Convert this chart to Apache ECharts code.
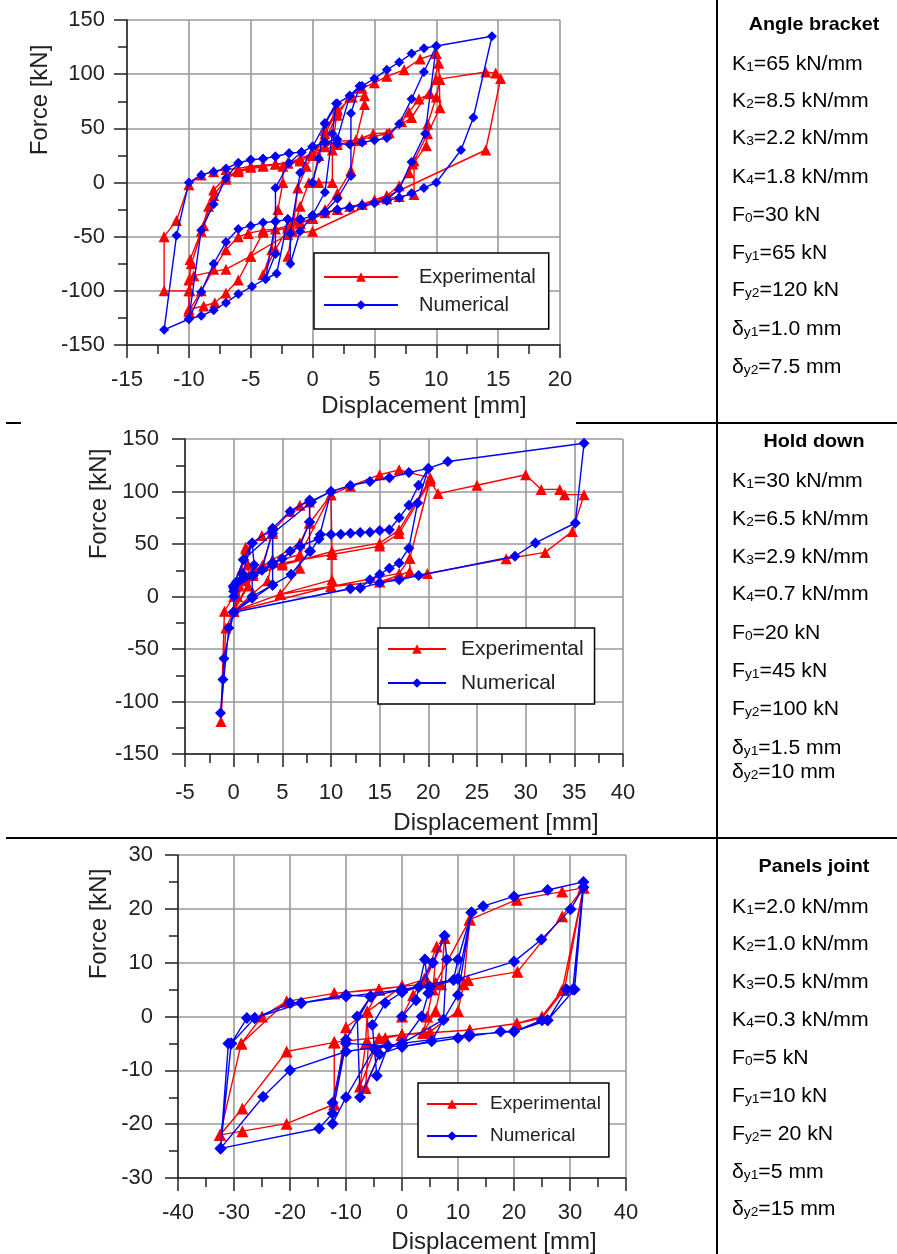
<!DOCTYPE html>
<html><head><meta charset="utf-8">
<script src="https://cdn.jsdelivr.net/npm/echarts@6/dist/echarts.min.js"></script>
<style>html,body{margin:0;padding:0;background:#fff}#c{width:897px;height:1254px}</style>
</head><body><div id="c"></div>
<script>
// ---------- DATA ----------
const seriesNames = ['Experimental', 'Numerical'];
const xTitle = 'Displacement [mm]';
const yTitle = 'Force [kN]';

// Panel 1 : Angle bracket  [displacement mm, force kN]
const angleExp = [
 [0,0],[0.5,25],[1,48],[2,68],[1.6,30],[1.6,0],[0.5,0],[-0.3,0],[-1,-22],[-1.6,-45],[-2,-68],[-1.5,-35],[-1.2,-5],[-0.5,15],[0,25],
 [1,45],[2,66],[3.2,79],[4.2,80],[4.2,72],[3.5,39],[3.1,11],[2,-10],[1,-25],[0,-33],[-1,-38],[-2,-42],[-3,-62],[-4,-85],[-3.3,-62],[-2.8,-25],[-2.4,0],[-2.4,15],[-1,20],[0,25],
 [1,40],[2,62],[3,79],[4,87],[5,92],[6,98],[7.4,104],[8.7,114],[10,119],[10.3,95],[10,79],[9.3,54],[9.2,34],[8.1,17],[7.8,9],[7,-3],[6,-12],[5,-16],[4,-20],[3,-22],[2,-25],[1,-28],[0,-33],[-1,-37],[-2,-40],[-3,-43],[-4,-44],[-5.2,-47],[-6,-50],[-7,-62],[-8,-80],[-9,-100],[-10,-119],[-9.9,-100],[-9.9,-71],[-9,-45],[-8.4,-22],[-8,-7],[-7,5],[-6,11],[-5,14],[-4,16],[-3,17],[-2,18],[-1,22],[0,27],
 [1,33],[2,38],[3.5,39],[4.9,45],[6.2,46],[7.2,56],[7.8,65],[8.6,77],[9.5,82],[10.2,110],[10.3,69],[9.3,45],[8.2,20],[8.2,-11],[7,-13],[6,-15],[4,-20],[2,-25],[0,-33],[-2,-42],[-4,-46],[-5,-68],[-6,-90],[-7,-102],[-7.9,-111],[-8.8,-114],[-10,-117],[-10,-90],[-9.8,-75],[-8.8,-40],[-8,-12],[-7,3],[-6,10],[-4,15],[-2,18],[0,26],
 [2,35],[4,40],[6,45],[8,60],[10,95],[14,102],[14.8,101],[15.2,96],[14,30],[0,-45],[-2,-48],[-5,-68],[-7,-80],[-9.6,-86],[-10,-100],[-12,-100],[-12,-50],[-11,-35],[-10,-2],[-9,7],[-8,10],[-7,12],[-6,13],[-5,15],[-3,17],[-1,20],[0,25]
];
const angleNum = [
 [0,0],[0.5,22],[1,55],[1.9,73],[1.6,45],[1,-9],[0,-30],[-1,-45],[-1.8,-75],[-1.8,-47],[-1,9],[0,33],
 [1,37],[2,40],[3,80],[3.8,89],[3.1,64],[3.1,6],[2,-15],[1,-27],[0,-31],[-1,-34],[-2,-34],[-2.9,-84],[-3.8,-89],[-3,-66],[-3,-5],[-1.9,18],[-0.9,28],[0,33],
 [1,54],[2,73],[3,80],[4,89],[5,96],[6,104],[7,111],[8,119],[9,124],[10,126],[9.1,45],[8,19],[7,-6],[6,-16],[5,-19],[4,-21],[3,-23],[2,-25],[1,-28],[0,-31],[-1,-34],[-2,-34],[-3,-36],[-3.8,-89],[-4.9,-96],[-6,-103],[-7,-111],[-8,-118],[-9,-123],[-10,-126],[-9,-44],[-8,-20],[-7,4],[-6,18],[-5,21],[-4,22],[-3,24],[-1.9,27],[-0.9,28],[0,33],
 [1,37],[2,36],[3,35],[4,37],[5,39],[6,41],[7,54],[8,77],[9,102],[10,126],[14.5,135],[13,60],[12,30],[10,0],[9,-5],[8,-10],[7,-14],[6,-17],[5,-19],[4,-21],[3,-23],[2,-25],[1,-28],[0,-31],[-1,-34],[-2,-34],[-3,-36],[-4,-37],[-5,-40],[-6,-43],[-7,-55],[-8,-75],[-9,-101],[-10,-126],[-12,-136],[-11,-49],[-10,0],[-9,7],[-8,10],[-7,13],[-6,18],[-5,21],[-4,22],[-3,24],[-1.9,27],[-0.9,28],[0,33]
];

// Panel 2 : Hold down
const holdExp = [
 [0,0],[-0.95,-14],[-1.3,-119],[-0.8,-30],[0,-14],[0.4,0],[0.8,25],[1.25,47],[1.5,30],[1.5,10],[0,-14],
 [0.5,10],[2,25],[2.9,28.5],[4,60],[4,35],[3.5,15],[2,3],[0,-14],
 [0.5,12],[1.25,45],[2.9,58],[4,62],[5.8,81],[6.8,87],[7.8,90],[7.8,70],[6.8,50.6],[6.8,27],[4.8,2.2],[0,-14],
 [1,15],[2.9,28.5],[4,35],[6.8,50.6],[7.8,70],[10,97],[10.1,42.9],[10.1,15.9],[4.8,2.2],[0,-14],
 [1,18],[3,30],[6.8,40],[10,97],[12,105],[15,116],[17,120.6],[20.2,113],[18.1,36.5],[18.1,23.8],[15,14],[10,9.5],[4.8,2.2],[0,-14],
 [2,20],[5,30],[10.1,42.9],[15,50.8],[17,63.5],[20.2,112],[18.1,36.5],[17,22],[10,9.5],[0,-14],
 [2,22],[5,32],[10.1,40],[15,48],[17,60],[20.2,110],[21,98],[25,106],[30,116],[31.6,102],[33.5,102],[34,97],[36,97],[34.8,62],[32,42],[28,36],[19.9,21.8],[15,14],[10,9.5],[4.8,2.2],[0,-14]
];
const holdNum = [
 [0,0],[0,-15],[-1,-59],[-1.1,-79],[-1.35,-111],[-0.5,-30],[0,-15],[0,5],[0.3,14],[0.9,22],[1.9,51],[2.1,30],[1.9,21],[1.9,-1.6],[0,-15],
 [0,9.5],[1,18],[2.9,25],[4,63],[4,32],[4,11],[1.9,0],[0,-15],
 [0,10],[1,35],[1.9,51],[4,65],[5.8,81],[7.8,92],[7.8,71],[7.8,43],[5.9,21],[4,11],[1.9,0],[0,-15],
 [0,10],[2,20],[4,32],[5,36],[5.8,43],[6.8,48],[7.8,71],[7.8,90],[10,100],[8.75,55],[7.9,43],[5.9,21],[4,11],[0,-15],
 [0,10],[1,35],[4,60],[8,90],[10,100],[12,105.7],[14,109.5],[16,113],[18,118],[20,122],[18.9,89],[18,46],[17,32],[16,27],[15,21],[14,16],[13,8],[12,7.3],[0,-15],
 [0,8],[4,30],[6.8,48],[8.75,55],[8.9,59],[10,59],[11,59.4],[12,60.3],[13,61],[14,61.3],[15,62.9],[16,63.5],[17,75],[18,87],[19,106],[20,122],[22,128.6],[36,146],[35.1,70],[31,51],[28.9,38.3],[19,20],[17,16],[15,13],[13,8],[12,7.6],[0,-15]
];

// Panel 3 : Panels joint
const panelExp = [
 [0,0],[2,4],[4,7],[6.2,13],[5.5,5],[4.5,0],[3.8,-3],[0,-3.4],[-3,-4],[-6.5,-13.3],[-6,-5],[-6.2,0.9],[-4.1,5],[0,5.6],
 [4.3,7],[7.6,14.6],[7,6],[6,1],[3.8,-3],[0,-3.4],[-4.1,-4],[-7.5,-13],[-6.5,-5],[-6.2,0.9],[-4.1,5],[0,5.6],
 [6,6.2],[12.1,18],[11,6],[10,1],[5,-2.8],[0,-3.4],[-12.1,-4.8],[-12.1,-16.3],[-10,-2],[-6.2,0.9],[0,5.6],
 [6,6.2],[12.1,18],[20.5,21.7],[28.6,23.2],[32.4,23.9],[28.6,4.9],[25,0],[20.5,-1.3],[12.1,-2.5],[0,-3.4],[-12.1,-4.8],[-12.1,-16.3],[-20.6,-19.9],[-28.5,-21.3],[-32.5,-22],[-28.7,-5],[-25,0],[-20.6,2.8],[-12.1,4.3],[-4.1,5],[0,5.6],
 [11.8,6.8],[20.6,8.3],[28.6,18.6],[32.4,24],[29,5],[25,-0.3],[20.5,-1.3],[12.1,-2.5],[0,-3.4],[-12.1,-4.8],[-20.6,-6.5],[-28.5,-17.1],[-32.5,-22],[-28.7,-5],[-20.6,2.8],[-12.1,4.3],[0,5.6]
];
const panelNum = [
 [0,0],[2.5,3],[4.1,10.6],[4.7,4.3],[3.5,0],[0,-5],[-2.5,-5.5],[-4.5,-11],[-5.3,-1.6],[-3,2.5],[0,4.5],
 [3,5.5],[5.5,10],[7.6,15],[8,10.6],[7.4,-0.6],[5.3,-4.6],[0,-5.6],[-4,-7],[-7.5,-15],[-8,0],[-5.6,3.7],[0,5],
 [5,5.5],[9.2,6.8],[10,10.6],[12.4,19.3],[10,4],[7.4,-0.6],[0,-5],[-5,-6],[-10,-15],[-12.4,-19.9],[-12.4,-16],[-10,-4.3],[-5.6,3.7],[0,5],
 [5,5.5],[10,7],[12.4,19.3],[14.5,20.5],[20,22.3],[26,23.5],[32.4,25],[30.5,5],[29.4,5],[26,-0.7],[25,-0.7],[20,-2.8],[17.6,-2.8],[12,-3.7],[10,-4],[0,-5.6],[-10,-5],[-12.4,-18],[-14.8,-20.8],[-32.4,-24.5],[-31,-5],[-30.5,-5],[-27.7,-0.3],[-26.3,-0.3],[-20,2.5],[-18,2.5],[-10,4],[-5.6,3.7],[0,5],
 [10,7],[20,10.2],[24.9,14.3],[30.1,19.9],[32.4,24],[30.8,5],[26,-0.7],[20,-2.8],[12,-3.4],[0,-5],[-10,-6.5],[-20,-10],[-24.8,-14.9],[-32.4,-24.5],[-30.5,-5],[-26.3,-0.3],[-18,2.5],[-10,3.7],[0,5]
];

// Parameter tables (base, subscript, rest)
const angleTitle = 'Angle bracket';
const angleParams = [['K','1','=65 kN/mm'],['K','2','=8.5 kN/mm'],['K','3','=2.2 kN/mm'],['K','4','=1.8 kN/mm'],['F','0','=30 kN'],['F','y1','=65 kN'],['F','y2','=120 kN'],['δ','y1','=1.0 mm'],['δ','y2','=7.5 mm']];
const holdTitle = 'Hold down';
const holdParams = [['K','1','=30 kN/mm'],['K','2','=6.5 kN/mm'],['K','3','=2.9 kN/mm'],['K','4','=0.7 kN/mm'],['F','0','=20 kN'],['F','y1','=45 kN'],['F','y2','=100 kN'],['δ','y1','=1.5 mm'],['δ','y2','=10 mm']];
const panelTitle = 'Panels joint';
const panelParams = [['K','1','=2.0 kN/mm'],['K','2','=1.0 kN/mm'],['K','3','=0.5 kN/mm'],['K','4','=0.3 kN/mm'],['F','0','=5 kN'],['F','y1','=10 kN'],['F','y2','= 20 kN'],['δ','y1','=5 mm'],['δ','y2','=15 mm']];

// ---------- LAYOUT ----------
const FONT = "'Liberation Sans', Arial, Helvetica, sans-serif";
const RED = '#ff0000', BLUE = '#0000ff';
const panels = [
 {grid:{left:127,top:20,width:433,height:325}, x:[-15,20,5], y:[-150,150,50], exp:angleExp, num:angleNum,
  lab:22, xm:24, ym:22, ms:[11,10],
  legend:{left:314,top:253,padding:[14,13,14,9],itemWidth:74,gap:8,fs:20,lh:20,tp:16},
  yT:[40,100], xT:[424,406], title:angleTitle, params:angleParams, ty:25, py:[63,100,137,176,214,252,289,328,366]},
 {grid:{left:185,top:439,width:438,height:315}, x:[-5,40,5], y:[-150,150,50], exp:holdExp, num:holdNum,
  lab:22, xm:28, ym:26, ms:[11,11],
  legend:{left:378,top:628,padding:[10,11,10,9],itemWidth:58,gap:12,fs:21,lh:22,tp:10},
  yT:[99,504], xT:[496,823], title:holdTitle, params:holdParams, ty:442, py:[480,518,556,593,632,670,708,747,771]},
 {grid:{left:178,top:855,width:448,height:323}, x:[-40,40,10], y:[-30,30,10], exp:panelExp, num:panelNum,
  lab:22, xm:24, ym:25, ms:[12,12],
  legend:{left:418,top:1083,padding:[11,8,11,8],itemWidth:50,gap:12,fs:19,lh:20,tp:8},
  yT:[99,924], xT:[494,1242], title:panelTitle, params:panelParams, ty:867, py:[906,943,981,1019,1057,1095,1133,1171,1208]}
];

const grids=[], xAxes=[], yAxes=[], series=[], legends=[], graphics=[];
const axisCommon = (fs, margin) => ({
  axisLine:{show:true, onZero:false, lineStyle:{color:'#222', width:1.5}},
  axisTick:{show:true, inside:false, length:13, lineStyle:{color:'#222', width:1.5}},
  minorTick:{show:true, splitNumber:2, length:9, lineStyle:{color:'#222', width:1.5}},
  splitLine:{show:true, lineStyle:{color:'#9a9a9a', width:1.6}},
  axisLabel:{fontSize:fs, fontFamily:FONT, color:'#222', margin:margin}
});
panels.forEach((p,i)=>{
  grids.push(Object.assign({containLabel:false}, p.grid));
  xAxes.push(Object.assign({type:'value', gridIndex:i, min:p.x[0], max:p.x[1], interval:p.x[2]}, axisCommon(p.lab, p.xm)));
  yAxes.push(Object.assign({type:'value', gridIndex:i, min:p.y[0], max:p.y[1], interval:p.y[2]}, axisCommon(p.lab, p.ym)));
  series.push({type:'line', name:seriesNames[0], xAxisIndex:i, yAxisIndex:i, data:p.exp, symbol:'triangle', symbolSize:p.ms[0],
    lineStyle:{color:RED, width:1.4}, itemStyle:{color:RED}, animation:false, z:3});
  series.push({type:'line', name:seriesNames[1], xAxisIndex:i, yAxisIndex:i, data:p.num, symbol:'diamond', symbolSize:p.ms[1],
    lineStyle:{color:BLUE, width:1.4}, itemStyle:{color:BLUE}, animation:false, z:4});
  const L = p.legend;
  legends.push({data:seriesNames, orient:'vertical', left:L.left, top:L.top, padding:L.padding, itemWidth:L.itemWidth, itemHeight:12,
    itemGap:L.gap, borderColor:'#000', borderWidth:1.5, backgroundColor:'#fff', z:10,
    textStyle:{fontSize:L.fs, fontFamily:FONT, color:'#222', lineHeight:L.lh, padding:[0,0,0,L.tp]}});
  // axis titles
  graphics.push({type:'text', x:p.yT[0], y:p.yT[1], rotation:Math.PI/2, z:20,
    style:{text:yTitle, fontSize:24, fontFamily:FONT, fill:'#222', align:'center', verticalAlign:'middle'}});
  graphics.push({type:'text', x:p.xT[0], y:p.xT[1], z:20,
    style:{text:xTitle, fontSize:24, fontFamily:FONT, fill:'#222', align:'center', verticalAlign:'middle'}});
  // right table
  graphics.push({type:'text', x:814, y:p.ty, z:20, scaleX:1.04,
    style:{text:p.title, fontSize:19, fontWeight:'bold', fontFamily:FONT, fill:'#000', align:'center', verticalAlign:'middle'}});
  p.params.forEach((r,k)=>{
    graphics.push({type:'text', x:732, y:p.py[k], z:20, scaleX:1.06,
      style:{text:'{n|'+r[0]+'}{s|'+r[1]+'}{n|'+r[2]+'}', align:'left', verticalAlign:'middle', fontFamily:FONT,
        rich:{n:{fontSize:20, fontFamily:FONT, fill:'#000', lineHeight:22, verticalAlign:'bottom'},
              s:{fontSize:13, fontFamily:FONT, fill:'#000', lineHeight:12, verticalAlign:'bottom'}}}});
  });
});
// separators
const sep = (x1,y1,x2,y2)=>({type:'line', z:1, shape:{x1,y1,x2,y2}, style:{stroke:'#000', lineWidth:2}});
graphics.push(sep(717,0,717,1254));
graphics.push(sep(6,423,21,423));
graphics.push(sep(576,423,897,423));
graphics.push(sep(6,838,897,838));

const chart = echarts.init(document.getElementById('c'), null, {renderer:'canvas'});
chart.setOption({animation:false, backgroundColor:'#fff', grid:grids, xAxis:xAxes, yAxis:yAxes, series, legend:legends, graphic:graphics});
</script></body></html>
